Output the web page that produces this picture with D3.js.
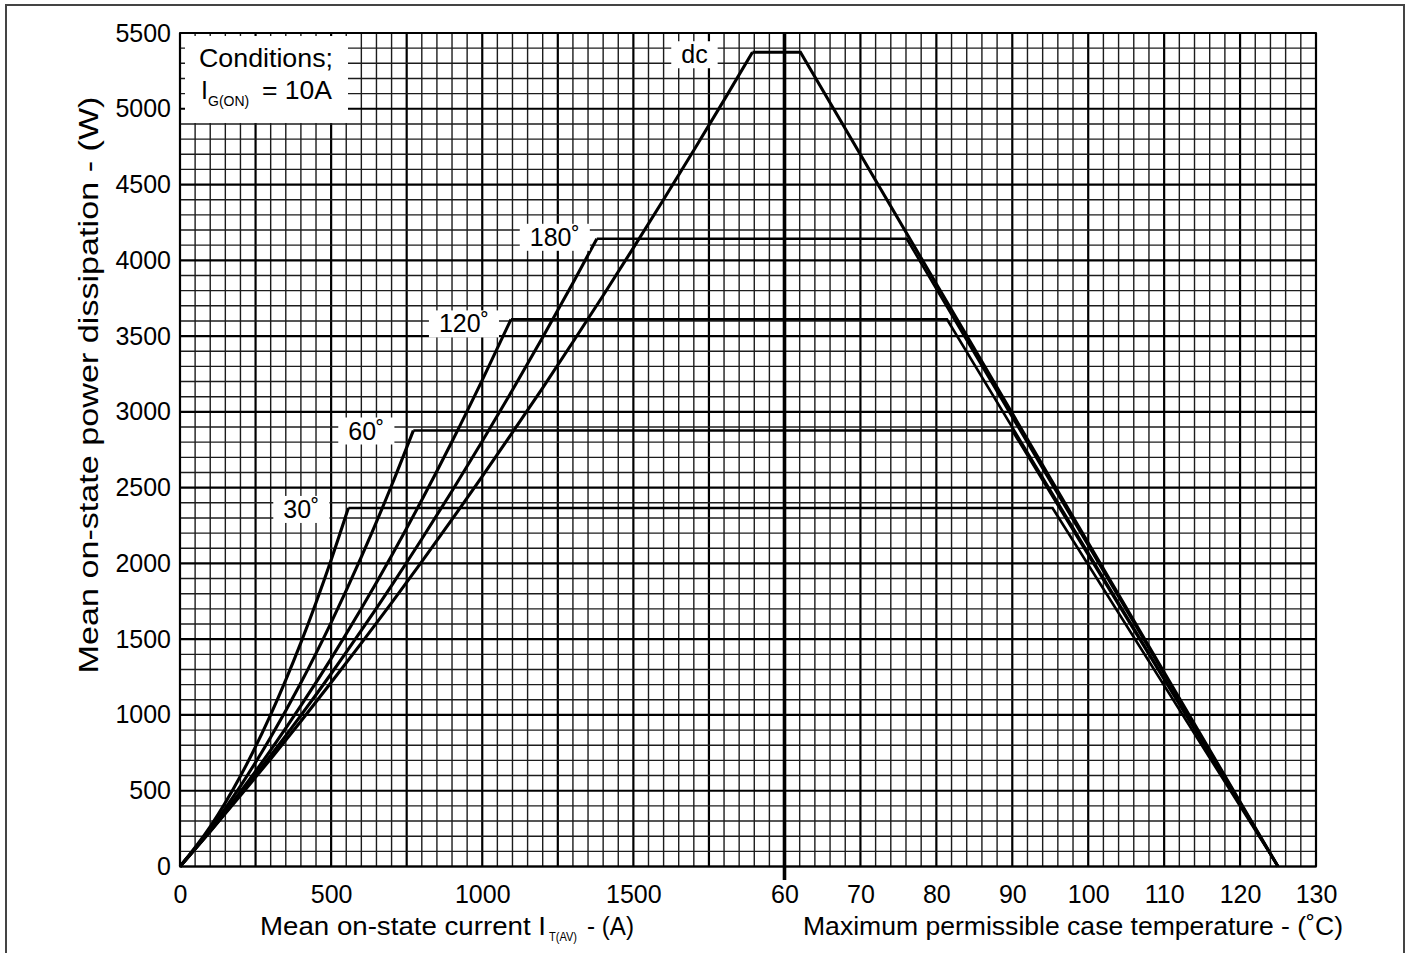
<!DOCTYPE html>
<html><head><meta charset="utf-8">
<script src="https://cdn.jsdelivr.net/npm/d3@7"></script>
<style>
body{margin:0;background:#fff}
text{font-family:"Liberation Sans",Arial,Helvetica,sans-serif;fill:#000}
</style>
</head><body>
<svg id="c" width="1411" height="953"></svg>
<script>
// ---------------- DATA ----------------
const curveNames = ["30˚", "60˚", "120˚", "180˚", "dc"];

const current30 = [0, 100, 200, 300, 400, 500, 557];
const power30   = [0, 263, 597, 1002, 1477, 2023, 2366];

const current60 = [0, 100, 200, 300, 400, 500, 600, 700, 772];
const power60   = [0, 247, 531, 853, 1212, 1609, 2043, 2514, 2877];

const current120 = [0, 100, 200, 300, 400, 500, 600, 700, 800, 900, 1000, 1095];
const power120   = [0, 237, 493, 768, 1061, 1372, 1702, 2051, 2418, 2804, 3209, 3610];

const current180 = [0, 100, 200, 300, 400, 500, 600, 700, 800, 900, 1000, 1100, 1200, 1300, 1379];
const power180   = [0, 233, 478, 732, 997, 1272, 1558, 1854, 2161, 2478, 2806, 3144, 3492, 3851, 4142];

const currentDC = [0, 100, 200, 300, 400, 500, 600, 700, 800, 900, 1000, 1100, 1200, 1300, 1400, 1500, 1600, 1700, 1800, 1894];
const powerDC   = [0, 231, 468, 710, 959, 1214, 1474, 1740, 2012, 2290, 2574, 2864, 3159, 3461, 3768, 4082, 4401, 4726, 5057, 5373];

// case temperature (°C) where each curve leaves its maximum power, and where power reaches zero
const plateauEndTemp = [95.3, 90.0, 81.4, 76.1, 62.1];
const zeroPowerTemp  = [125, 125, 125, 125, 125];

const powerTicks   = [0, 500, 1000, 1500, 2000, 2500, 3000, 3500, 4000, 4500, 5000, 5500];
const currentTicks = [0, 500, 1000, 1500];
const tempTicks    = [60, 70, 80, 90, 100, 110, 120, 130];

// ---------------- DRAWING ----------------
const series = [
  {name: curveNames[0], I: current30,  P: power30},
  {name: curveNames[1], I: current60,  P: power60},
  {name: curveNames[2], I: current120, P: power120},
  {name: curveNames[3], I: current180, P: power180},
  {name: curveNames[4], I: currentDC,  P: powerDC}
];

const svg = d3.select("#c");
const L = 180, R = 1316, T = 33, B = 866.5, MID = 784.5;
const xI = d3.scaleLinear().domain([0, 2000]).range([L, MID]);
const xT = d3.scaleLinear().domain([60, 130]).range([MID, R]);
const y  = d3.scaleLinear().domain([0, 5500]).range([B, T]);

// outer frame
svg.append("rect").attr("x", 6).attr("y", 5).attr("width", 1398).attr("height", 980)
  .attr("fill", "none").attr("stroke", "#444").attr("stroke-width", 2);

// grid
const gGrid = svg.append("g");
const vLines = d3.range(0, 2000, 50).map(v => ({x: xI(v), major: v % 250 === 0}))
  .concat(d3.range(60, 130.01, 2).map(v => ({x: xT(v), major: Math.round(v - 60) % 10 === 0})));
const hLines = d3.range(0, 5501, 100).map(v => ({y: y(v), major: v % 500 === 0}));
gGrid.selectAll("line.v").data(vLines).join("line")
  .attr("x1", d => d.x).attr("x2", d => d.x).attr("y1", T).attr("y2", B)
  .attr("stroke", d => d.major ? "#000" : "#1c1c1c").attr("stroke-width", d => d.major ? 2.2 : 1.4);
gGrid.selectAll("line.h").data(hLines).join("line")
  .attr("y1", d => d.y).attr("y2", d => d.y).attr("x1", L).attr("x2", R)
  .attr("stroke", d => d.major ? "#000" : "#1c1c1c").attr("stroke-width", d => d.major ? 2.2 : 1.4);

// plot frame
svg.append("rect").attr("x", L).attr("y", T).attr("width", R - L).attr("height", B - T)
  .attr("fill", "none").attr("stroke", "#000").attr("stroke-width", 1.8);

// conditions box
svg.append("rect").attr("x", 185).attr("y", 36).attr("width", 163).attr("height", 87).attr("fill", "#fff");
svg.append("text").attr("x", 199).attr("y", 67).attr("font-size", 25).attr("textLength", 134)
  .attr("lengthAdjust", "spacingAndGlyphs").text("Conditions;");
svg.append("text").attr("x", 201).attr("y", 99).attr("font-size", 25).text("I");
svg.append("text").attr("x", 208).attr("y", 106).attr("font-size", 14).text("G(ON)");
svg.append("text").attr("x", 262).attr("y", 99).attr("font-size", 25).attr("textLength", 70)
  .attr("lengthAdjust", "spacingAndGlyphs").text("= 10A");

// curves
const line = d3.line().curve(d3.curveMonotoneX);
const gCurves = svg.append("g").attr("fill", "none").attr("stroke", "#000")
  .attr("stroke-linejoin", "miter").attr("stroke-linecap", "butt");
series.forEach((s, i) => {
  const pts = s.I.map((v, k) => [xI(v), y(s.P[k])]);
  gCurves.append("path").attr("d", line(pts)).attr("stroke-width", 3.1);
  const pMax = s.P[s.P.length - 1];
  const right = [
    [xI(s.I[s.I.length - 1]), y(pMax)],
    [xT(plateauEndTemp[i]), y(pMax)],
    [xT(zeroPowerTemp[i]), y(0)]
  ];
  gCurves.append("path").attr("d", d3.line()(right)).attr("stroke-width", i === 4 ? 3.1 : 2.6);
});

// 60 °C separator
svg.append("line").attr("x1", MID).attr("x2", MID).attr("y1", T).attr("y2", 880)
  .attr("stroke", "#000").attr("stroke-width", 3.6);

// curve labels with white boxes
const labelDX = [-47, -47, -47, -42, -58];
const labelDY = [10, 9, 13, 7, 11];
series.forEach((s, i) => {
  const cx = xI(s.I[s.I.length - 1]) + labelDX[i];
  const by = y(s.P[s.P.length - 1]) + labelDY[i];
  const g = svg.append("g");
  const t = g.append("text").attr("x", cx).attr("y", by).attr("text-anchor", "middle")
    .attr("font-size", 25).text(s.name);
  const bb = t.node().getBBox();
  g.insert("rect", "text").attr("x", bb.x - 10).attr("y", bb.y + 1).attr("width", bb.width + 20)
    .attr("height", bb.height - 1).attr("fill", "#fff");
});

// axes (labels only)
const fontAxis = g => g.call(a => a.select(".domain").remove())
  .attr("font-family", null).attr("font-size", 25);
svg.append("g").attr("transform", `translate(${L},0)`)
  .call(d3.axisLeft(y).tickValues(powerTicks).tickSize(0).tickPadding(9).tickFormat(d3.format("d")))
  .call(fontAxis);
svg.append("g").attr("transform", `translate(0,${B})`)
  .call(d3.axisBottom(xI).tickValues(currentTicks).tickSize(0).tickPadding(19).tickFormat(d3.format("d")))
  .call(fontAxis);
svg.append("g").attr("transform", `translate(0,${B})`)
  .call(d3.axisBottom(xT).tickValues(tempTicks).tickSize(0).tickPadding(19).tickFormat(d3.format("d")))
  .call(fontAxis);

// axis titles
svg.append("text").attr("x", 260).attr("y", 935).attr("font-size", 25).attr("textLength", 286)
  .attr("lengthAdjust", "spacingAndGlyphs").text("Mean on-state current I");
svg.append("text").attr("x", 549).attr("y", 941).attr("font-size", 12).attr("textLength", 28)
  .attr("lengthAdjust", "spacingAndGlyphs").text("T(AV)");
svg.append("text").attr("x", 587).attr("y", 935).attr("font-size", 25).attr("textLength", 47)
  .attr("lengthAdjust", "spacingAndGlyphs").text("- (A)");
svg.append("text").attr("x", 803).attr("y", 935).attr("font-size", 25).attr("textLength", 540)
  .attr("lengthAdjust", "spacingAndGlyphs").text("Maximum permissible case temperature - (˚C)");
svg.append("text").attr("transform", "translate(98,385) rotate(-90)").attr("text-anchor", "middle")
  .attr("font-size", 27).attr("textLength", 577).attr("lengthAdjust", "spacingAndGlyphs")
  .text("Mean on-state power dissipation - (W)");
</script>
</body></html>
